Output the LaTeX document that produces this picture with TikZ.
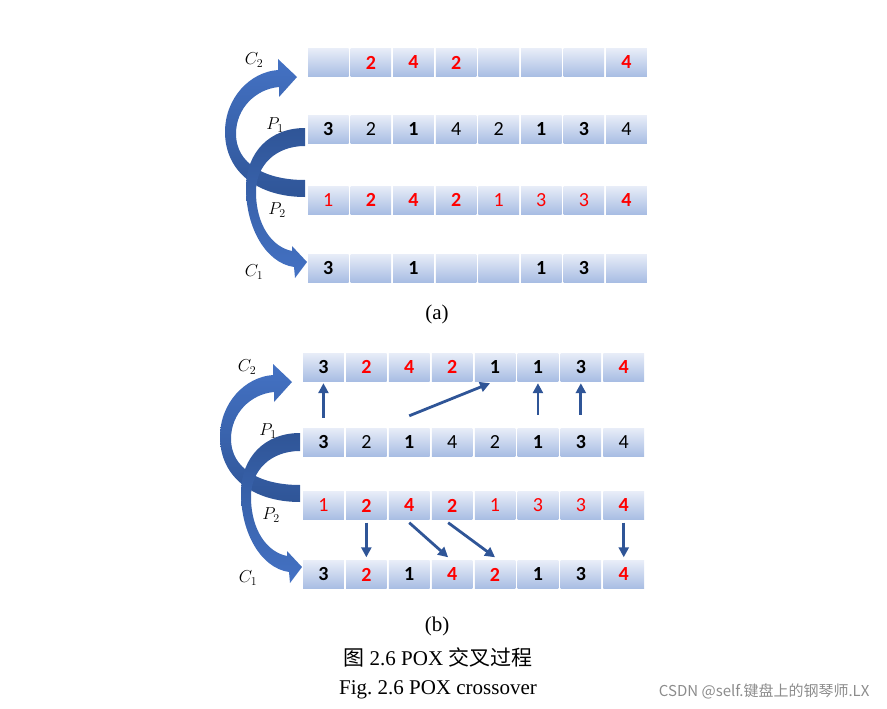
\documentclass[tikz,border=0pt]{standalone}
\usepackage{fontspec}
\setmainfont{Liberation Serif}
\newfontfamily\cellfont{Carlito}
\newfontfamily\cjkfont{Noto Sans CJK SC}
\usetikzlibrary{arrows.meta,positioning}
\definecolor{poxDark}{RGB}{47,85,151}
\definecolor{poxBlue}{RGB}{68,114,196}
\definecolor{poxRed}{RGB}{255,0,0}
\definecolor{cellTop}{RGB}{232,237,248}
\definecolor{cellBot}{RGB}{168,189,227}
\newcommand{\cellsize}{\fontsize{20}{22}\selectfont}
% the two crossing block arrows, drawn for part (a); part (b) shifts them
\newcommand{\poxswap}{%
  \shade[top color=poxBlue, bottom color=poxDark]
    (305,197) .. controls (258,197) and (225,172) .. (225,132)
    .. controls (225,98) and (250,72) .. (278,70) -- (278,59) -- (297,77) -- (279,97) -- (279,87)
    .. controls (256,89) and (236,108) .. (236,134)
    .. controls (236,163) and (264,180) .. (305,180) -- cycle;
  \shade[top color=poxDark, bottom color=poxBlue]
    (305,128) .. controls (270,128) and (246,152) .. (246,188)
    .. controls (246,228) and (266,263) .. (294,267) -- (295,278) -- (307,262) -- (292,246) -- (292,251)
    .. controls (272,247) and (256,225) .. (256,192)
    .. controls (256,165) and (276,146) .. (305,146) -- cycle;
}

\begin{document}
\begin{tikzpicture}[x=1pt, y=-1pt,
  gene/.style={minimum width=40.6pt, minimum height=28pt, inner sep=0pt,
               top color=cellTop, bottom color=cellBot, font=\cellfont\cellsize},
  bb/.style={font=\cellfont\cellsize\bfseries},
  bn/.style={},
  rb/.style={text=poxRed, font=\cellfont\cellsize\bfseries},
  rn/.style={text=poxRed},
  ee/.style={},
  lbl/.style={font=\fontsize{17}{19}\selectfont},
  capt/.style={font=\fontsize{21}{24}\selectfont},
  gmove/.style={-{Triangle[length=10pt,width=10pt]}, line width=2.8pt, poxDark}
]
  \useasboundingbox (0,0) rectangle (887,709);

  % (a)
  \poxswap
  \foreach \s/\v [count=\i] in {ee/{}, rb/2, rb/4, rb/2, ee/{}, ee/{}, ee/{}, rb/4}
    \node[gene, \s] (a-c2-\i) at ({307+42.6*\i-21.3}, 62.5) {\v};
  \foreach \s/\v [count=\i] in {bb/3, bn/2, bb/1, bn/4, bn/2, bb/1, bb/3, bn/4}
    \node[gene, \s] (a-p1-\i) at ({307+42.6*\i-21.3}, 129.5) {\v};
  \foreach \s/\v [count=\i] in {rn/1, rb/2, rb/4, rb/2, rn/1, rn/3, rn/3, rb/4}
    \node[gene, \s] (a-p2-\i) at ({307+42.6*\i-21.3}, 200) {\v};
  \foreach \s/\v [count=\i] in {bb/3, ee/{}, bb/1, ee/{}, ee/{}, bb/1, bb/3, ee/{}}
    \node[gene, \s] (a-c1-\i) at ({307+42.6*\i-21.3}, 268) {\v};

  \node[lbl] (a-lc2) at (254,60)  {$C_2$};
  \node[lbl] (a-lp1) at (275,125) {$P_1$};
  \node[lbl] (a-lp2) at (277,210) {$P_2$};
  \node[lbl] (a-lc1) at (254,272) {$C_1$};
  \node[capt] (capa) at (437,314) {(a)};

  % (b)
  \begin{scope}[shift={(-5,305)}]
    \poxswap
  \end{scope}
  \foreach \s/\v [count=\i] in {bb/3, rb/2, rb/4, rb/2, bb/1, bb/1, bb/3, rb/4}
    \node[gene, \s] (b-c2-\i) at ({302+42.9*\i-21.45}, 367) {\v};
  \foreach \s/\v [count=\i] in {bb/3, bn/2, bb/1, bn/4, bn/2, bb/1, bb/3, bn/4}
    \node[gene, \s] (b-p1-\i) at ({302+42.9*\i-21.45}, 442) {\v};
  \foreach \s/\v [count=\i] in {rn/1, rb/2, rb/4, rb/2, rn/1, rn/3, rn/3, rb/4}
    \node[gene, \s] (b-p2-\i) at ({302+42.9*\i-21.45}, 505.5) {\v};
  \foreach \s/\v [count=\i] in {bb/3, rb/2, bb/1, rb/4, rb/2, bb/1, bb/3, rb/4}
    \node[gene, \s] (b-c1-\i) at ({302+42.9*\i-21.45}, 574.5) {\v};

  \node[lbl] (b-lc2) at (247,367) {$C_2$};
  \node[lbl] (b-lp1) at (268,431) {$P_1$};
  \node[lbl] (b-lp2) at (271,515) {$P_2$};
  \node[lbl] (b-lc1) at (248,578) {$C_1$};

  \draw[gmove] ([yshift=10pt]b-p1-1.north) -- ([yshift=-2pt]b-c2-1.south);
  \draw[gmove] ([yshift=12pt]b-p1-3.north) -- ([xshift=-5pt,yshift=-2pt]b-c2-5.south);
  \draw[gmove] ([yshift=13pt]b-p1-6.north) -- ([yshift=-2pt]b-c2-6.south);
  \draw[gmove] ([yshift=13pt]b-p1-7.north) -- ([yshift=-2pt]b-c2-7.south);

  \draw[gmove] ([yshift=-3pt]b-p2-2.south) -- ([yshift=3pt]b-c1-2.north);
  \draw[gmove] ([yshift=-3pt]b-p2-3.south) -- ([xshift=-4pt,yshift=3pt]b-c1-4.north);
  \draw[gmove] ([xshift=-4pt,yshift=-3pt]b-p2-4.south) -- ([yshift=3pt]b-c1-5.north);
  \draw[gmove] ([yshift=-3pt]b-p2-8.south) -- ([yshift=3pt]b-c1-8.north);

  \node[capt] (capb) at (437,626) {(b)};
  \node[capt] (cn) at (438,657) {{\cjkfont 图} 2.6 POX {\cjkfont 交叉过程}};
  \node[capt] (en) at (438,690) {Fig.\ 2.6 POX crossover};
  \node[anchor=east, text=black!45, font=\cjkfont\fontsize{15}{17}\selectfont] (mark) at (873,691)
    {CSDN @self.键盘上的钢琴师.LX};
\end{tikzpicture}
\end{document}
